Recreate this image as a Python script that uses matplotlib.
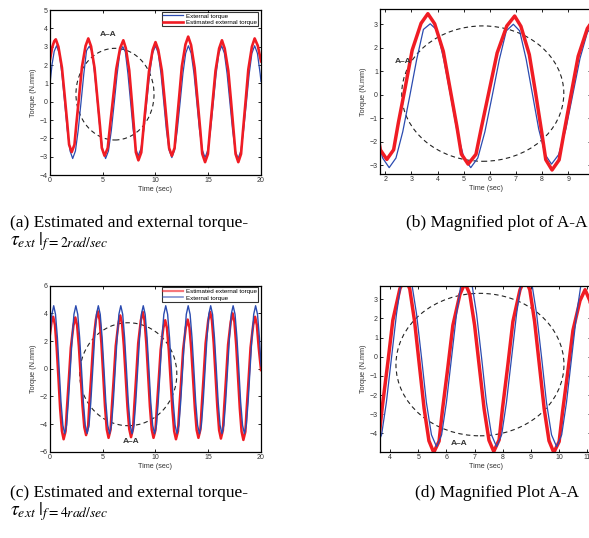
import matplotlib
matplotlib.use('Agg')
import matplotlib.pyplot as plt
from matplotlib.patches import Ellipse
from matplotlib.lines import Line2D

plt.rcParams['font.family'] = ['Liberation Sans', 'DejaVu Sans']
plt.rcParams['mathtext.fontset'] = 'stix'

# ---------------- f = 2 rad/sec (panels a and b) ----------------
# external torque (blue)
t_ext_2 = [0.0, 0.2, 0.4,
           0.62, 0.88, 1.13, 1.39, 1.64, 1.9,
           2.15, 2.41, 2.67, 2.94, 3.2, 3.46,
           3.72, 3.98, 4.24, 4.5, 4.75, 5.01,
           5.27, 5.54, 5.81, 6.09, 6.36, 6.63,
           6.9, 7.14, 7.39, 7.63, 7.87, 8.12,
           8.36, 8.63, 8.91, 9.18, 9.45, 9.73,
           10.0, 10.26, 10.52, 10.78, 11.03, 11.29,
           11.55, 11.81, 12.07, 12.34, 12.6, 12.86,
           13.12, 13.38, 13.65, 13.91, 14.17, 14.44,
           14.7, 14.96, 15.22, 15.49, 15.75, 16.01,
           16.27, 16.53, 16.79, 17.05, 17.31, 17.57,
           17.83, 18.09, 18.35, 18.62, 18.88, 19.14,
           19.4, 19.66, 19.92, 20.0]
ext_2 = [1.0, 2.05, 2.75,
         3.05, 2.64, 1.51, -0.03, -1.56, -2.69,
         -3.1, -2.69, -1.57, -0.04, 1.49, 2.78,
         3.02, 2.75, 1.49, -0.04, -1.57, -2.69,
         -3.1, -2.69, -1.58, -0.05, 1.48, 2.72,
         3.0, 2.72, 1.51, 0.03, -1.46, -2.55,
         -2.95, -2.55, -1.45, 0.05, 1.55, 2.65,
         3.05, 2.64, 1.53, 0.0, -1.53, -2.64,
         -3.05, -2.64, -1.53, 0.0, 1.53, 2.64,
         3.05, 2.64, 1.53, 0.0, -1.53, -2.64,
         -3.05, -2.64, -1.53, 0.0, 1.53, 2.64,
         3.05, 2.64, 1.51, -0.03, -1.56, -2.69,
         -3.1, -2.69, -1.56, -0.03, 1.51, 2.64,
         3.05, 2.64, 1.53, 1.1]
# estimated external torque (red)
t_est_2 = [0.0, 0.2, 0.4,
           0.55, 0.8, 1.13, 1.39, 1.64, 1.81,
           2.06, 2.32, 2.5, 2.77, 3.03, 3.37,
           3.63, 3.89, 4.22, 4.48, 4.74, 4.91,
           5.17, 5.47, 5.68, 5.98, 6.28, 6.65,
           6.95, 7.19, 7.51, 7.75, 7.98, 8.14,
           8.38, 8.65, 8.84, 9.11, 9.38, 9.73,
           10.0, 10.26, 10.6, 10.86, 11.11, 11.29,
           11.55, 11.81, 11.99, 12.25, 12.5, 12.84,
           13.1, 13.37, 13.71, 13.98, 14.25, 14.43,
           14.7, 14.97, 15.15, 15.42, 15.69, 16.03,
           16.3, 16.56, 16.9, 17.16, 17.41, 17.59,
           17.85, 18.11, 18.29, 18.55, 18.8, 19.14,
           19.4, 19.7, 20.0]
est_2 = [2.3, 2.95, 3.3,
         3.4, 2.99, 1.86, 0.33, -1.21, -2.34,
         -2.75, -2.34, -1.2, 0.35, 1.9, 3.04,
         3.45, 3.02, 1.85, 0.25, -1.35, -2.52,
         -2.95, -2.53, -1.38, 0.2, 1.78, 2.93,
         3.35, 2.91, 1.71, 0.08, -1.56, -2.76,
         -3.2, -2.77, -1.59, 0.03, 1.64, 2.82,
         3.25, 2.83, 1.7, 0.15, -1.4, -2.53,
         -2.95, -2.52, -1.33, 0.3, 1.93, 3.12,
         3.55, 3.09, 1.84, 0.13, -1.59, -2.84,
         -3.3, -2.85, -1.64, 0.03, 1.69, 2.9,
         3.35, 2.9, 1.69, 0.03, -1.64, -2.85,
         -3.3, -2.85, -1.61, 0.08, 1.76, 3.0,
         3.45, 3.05, 2.2]

# ---------------- f = 4 rad/sec (panels c and d) ----------------
t_ext_4 = [0.0, 0.17,
           0.35, 0.52, 0.70, 0.87, 1.04, 1.22,
           1.39, 1.57, 1.74, 1.92, 2.10, 2.27,
           2.45, 2.63, 2.81, 2.99, 3.16, 3.34,
           3.52, 3.70, 3.87, 4.05, 4.23, 4.40,
           4.58, 4.76, 4.94, 5.12, 5.29, 5.47,
           5.65, 5.83, 6.00, 6.18, 6.36, 6.53,
           6.71, 6.89, 7.07, 7.25, 7.42, 7.60,
           7.78, 7.96, 8.13, 8.31, 8.49, 8.66,
           8.84, 9.02, 9.20, 9.38, 9.55, 9.73,
           9.91, 10.09, 10.26, 10.44, 10.62, 10.79,
           10.97, 11.15, 11.33, 11.51, 11.68, 11.86,
           12.04, 12.22, 12.39, 12.57, 12.75, 12.92,
           13.10, 13.28, 13.46, 13.64, 13.81, 13.99,
           14.17, 14.35, 14.52, 14.70, 14.88, 15.05,
           15.23, 15.41, 15.59, 15.77, 15.94, 16.12,
           16.30, 16.48, 16.65, 16.83, 17.01, 17.18,
           17.36, 17.54, 17.72, 17.90, 18.07, 18.25,
           18.43, 18.61, 18.78, 18.96, 19.14, 19.31,
           19.49, 19.67, 19.85, 20.0]
ext_4 = [2.4, 3.9,
         4.55, 3.93, 2.24, -0.08, -2.39, -4.08,
         -4.7, -4.08, -2.39, -0.08, 2.24, 3.93,
         4.55, 3.93, 2.24, -0.08, -2.39, -4.08,
         -4.68, -4.08, -2.39, -0.08, 2.24, 3.93,
         4.55, 3.93, 2.24, -0.08, -2.39, -4.08,
         -4.7, -4.08, -2.39, -0.08, 2.24, 3.93,
         4.55, 3.93, 2.24, -0.08, -2.39, -4.08,
         -4.7, -4.08, -2.39, -0.08, 2.24, 3.93,
         4.55, 3.93, 2.24, -0.08, -2.39, -4.08,
         -4.7, -4.08, -2.39, -0.08, 2.24, 3.93,
         4.55, 3.93, 2.24, -0.08, -2.39, -4.08,
         -4.7, -4.08, -2.39, -0.08, 2.24, 3.93,
         4.55, 3.93, 2.24, -0.08, -2.39, -4.08,
         -4.7, -4.08, -2.39, -0.08, 2.24, 3.93,
         4.55, 3.93, 2.24, -0.08, -2.39, -4.08,
         -4.7, -4.08, -2.39, -0.08, 2.24, 3.93,
         4.55, 3.93, 2.24, -0.08, -2.39, -4.08,
         -4.7, -4.08, -2.39, -0.08, 2.24, 3.93,
         4.55, 3.93, 2.24, 0.2]
t_est_4 = [0.0, 0.15,
           0.30, 0.47, 0.63, 0.80, 0.96, 1.13,
           1.29, 1.48, 1.60, 1.79, 1.97, 2.22,
           2.40, 2.57, 2.74, 2.91, 3.08, 3.25,
           3.42, 3.61, 3.73, 3.92, 4.10, 4.35,
           4.53, 4.70, 4.87, 5.04, 5.21, 5.38,
           5.55, 5.74, 5.86, 6.05, 6.23, 6.48,
           6.66, 6.83, 7.00, 7.17, 7.34, 7.51,
           7.68, 7.87, 7.99, 8.18, 8.36, 8.61,
           8.79, 8.96, 9.13, 9.30, 9.47, 9.64,
           9.81, 10.00, 10.12, 10.31, 10.49, 10.74,
           10.92, 11.09, 11.26, 11.43, 11.60, 11.77,
           11.94, 12.13, 12.25, 12.44, 12.62, 12.87,
           13.05, 13.22, 13.39, 13.56, 13.73, 13.90,
           14.07, 14.26, 14.38, 14.57, 14.75, 15.00,
           15.18, 15.35, 15.52, 15.69, 15.86, 16.03,
           16.20, 16.39, 16.51, 16.70, 16.88, 17.13,
           17.31, 17.48, 17.65, 17.82, 17.99, 18.16,
           18.33, 18.52, 18.64, 18.83, 19.01, 19.26,
           19.44, 19.61, 19.78, 20.0]
est_4 = [2.5, 3.4,
         3.75, 3.16, 1.54, -0.68, -2.89, -4.51,
         -5.1, -4.51, -2.9, -0.7, 1.5, 3.11,
         3.7, 3.13, 1.58, -0.55, -2.68, -4.23,
         -4.8, -4.2, -2.56, -0.33, 1.91, 3.55,
         4.15, 3.54, 1.86, -0.43, -2.71, -4.39,
         -5.0, -4.41, -2.79, -0.58, 1.64, 3.26,
         3.85, 3.26, 1.65, -0.55, -2.75, -4.36,
         -4.95, -4.34, -2.69, -0.43, 1.84, 3.49,
         4.1, 3.49, 1.83, -0.45, -2.73, -4.39,
         -5.0, -4.43, -2.88, -0.75, 1.38, 2.93,
         3.5, 2.92, 1.35, -0.8, -2.95, -4.52,
         -5.1, -4.52, -2.94, -0.78, 1.39, 2.97,
         3.55, 2.98, 1.41, -0.73, -2.86, -4.43,
         -5.0, -4.39, -2.73, -0.45, 1.83, 3.49,
         4.1, 3.49, 1.81, -0.48, -2.76, -4.44,
         -5.05, -4.44, -2.79, -0.53, 1.74, 3.39,
         4.0, 3.39, 1.71, -0.58, -2.86, -4.54,
         -5.15, -4.55, -2.93, -0.7, 1.53, 3.15,
         3.75, 3.15, 1.55, -0.1]

BLUE = '#2b4bb0'
RED = '#f01c24'
GRAY = '#333333'


def matlab_axes(ax, xlim, ylim, xticks, yticks):
    ax.set_xlim(xlim)
    ax.set_ylim(ylim)
    ax.set_xticks(xticks)
    ax.set_yticks(yticks)
    ax.tick_params(direction='in', length=2.5, width=0.6, labelsize=5,
                   top=True, right=True, pad=1.5, labelcolor=GRAY)
    for s in ax.spines.values():
        s.set_linewidth(0.9)
    ax.set_xlabel('Time (sec)', fontsize=5.2, color=GRAY, labelpad=1.5)
    ax.set_ylabel('Torque (N.mm)', fontsize=5.2, color=GRAY, labelpad=2)


fig = plt.figure(figsize=(5.89, 5.38), dpi=100)

# (a)
ax_a = fig.add_axes([0.0849, 0.6747, 0.3582, 0.3067])
ax_a.plot(t_ext_2, ext_2, color=BLUE, lw=0.9, label='External torque')
ax_a.plot(t_est_2, est_2, color=RED, lw=1.9, label='Estimated external torque')
matlab_axes(ax_a, (0, 20), (-4, 5), range(0, 21, 5), range(-4, 6))
ax_a.add_patch(Ellipse((6.16, 0.41), 7.4, 5.0, fill=False, ls=(0, (4, 3)), lw=0.8, color='#222222'))
ax_a.text(5.55, 3.65, 'A–A', fontsize=6, fontweight='bold', color=GRAY, ha='center', va='center')
ax_a.legend(loc='upper right', bbox_to_anchor=(0.988, 0.99), fontsize=4.5, frameon=True,
            fancybox=False, edgecolor='black', handlelength=3.2, handletextpad=0.4,
            borderpad=0.25, labelspacing=0.15, borderaxespad=0).get_frame().set_linewidth(0.8)

# (b) magnified A-A
ax_b = fig.add_axes([0.6452, 0.6766, 0.3582, 0.3067])
ax_b.plot(t_ext_2, ext_2, color=BLUE, lw=0.9)
ax_b.plot(t_est_2, est_2, color=RED, lw=2.5)
matlab_axes(ax_b, (1.8, 9.87), (-3.37, 3.65), range(2, 10), range(-3, 4))
ax_b.add_patch(Ellipse((5.73, 0.05), 6.2, 5.76, fill=False, ls=(0, (4, 3)), lw=0.8, color='#222222'))
ax_b.text(2.69, 1.43, 'A–A', fontsize=6, fontweight='bold', color=GRAY, ha='center', va='center')

# (c)
ax_c = fig.add_axes([0.0849, 0.1604, 0.3582, 0.3086])
ax_c.plot(t_est_4, est_4, color=RED, lw=1.8)
ax_c.plot(t_ext_4, ext_4, color=BLUE, lw=1.0)
matlab_axes(ax_c, (0, 20), (-6, 6), range(0, 21, 5), range(-6, 7, 2))
ax_c.add_patch(Ellipse((7.42, -0.4), 9.2, 7.44, fill=False, ls=(0, (4, 3)), lw=0.8, color='#222222'))
ax_c.text(7.68, -5.24, 'A–A', fontsize=6, fontweight='bold', color=GRAY, ha='center', va='center')
handles = [Line2D([], [], color=RED, lw=1.6, alpha=0.6), Line2D([], [], color=BLUE, lw=1.2, alpha=0.6)]
ax_c.legend(handles, ['Estimated external torque', 'External torque'], loc='upper right',
            bbox_to_anchor=(0.988, 0.99), fontsize=4.5, frameon=True, fancybox=False,
            edgecolor='black', handlelength=3.2, handletextpad=0.4, borderpad=0.25,
            labelspacing=0.15, borderaxespad=0).get_frame().set_linewidth(0.8)

# (d) magnified A-A
ax_d = fig.add_axes([0.6452, 0.1604, 0.3582, 0.3086])
ax_d.plot(t_est_4, est_4, color=RED, lw=2.5)
ax_d.plot(t_ext_4, ext_4, color=BLUE, lw=0.9)
matlab_axes(ax_d, (3.645, 11.13), (-4.96, 3.71), range(4, 12), range(-4, 4))
ax_d.add_patch(Ellipse((7.19, -0.41), 5.96, 7.44, fill=False, ls=(0, (4, 3)), lw=0.8, color='#222222'))
ax_d.text(6.45, -4.54, 'A–A', fontsize=6, fontweight='bold', color=GRAY, ha='center', va='center')

# captions
serif = ['Liberation Serif', 'DejaVu Serif']
cap = dict(fontsize=12.5, family=serif, va='center')
sub = dict(fontsize=14, family=serif, va='center')
fig.text(0.017, 0.5855, '(a) Estimated and external torque-', ha='left', **cap)
fig.text(0.017, 0.551, r'$\tau_{ext}\;|_{f=2rad/sec}$', ha='left', **sub)
fig.text(0.8438, 0.5855, '(b) Magnified plot of A-A', ha='center', **cap)
fig.text(0.017, 0.0836, '(c) Estimated and external torque-', ha='left', **cap)
fig.text(0.017, 0.050, r'$\tau_{ext}\;|_{f=4rad/sec}$', ha='left', **sub)
fig.text(0.843, 0.0836, '(d) Magnified Plot A-A', ha='center', **cap)

fig.savefig('out.png', dpi=100)
